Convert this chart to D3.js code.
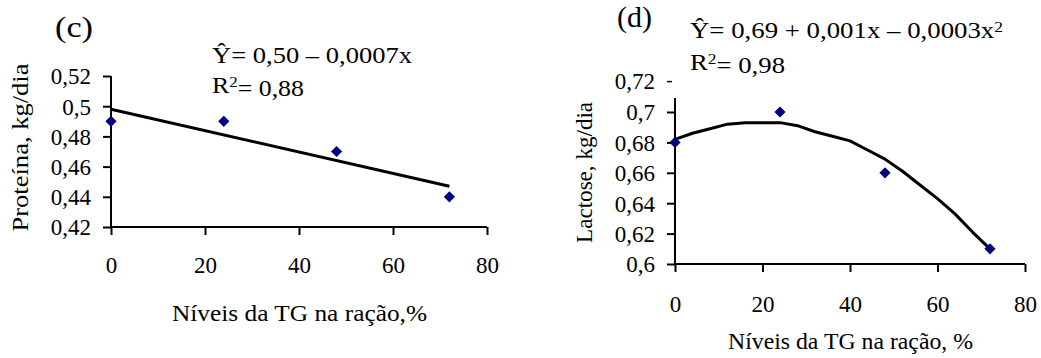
<!DOCTYPE html>
<html>
<head>
<meta charset="utf-8">
<script src="https://cdn.jsdelivr.net/npm/d3@7/dist/d3.min.js"></script>
<style>
  body { margin: 0; background: #fff; }
  svg text { font-family: "Liberation Serif", "Times New Roman", serif; fill: #000; }
</style>
</head>
<body>
<div id="chart"></div>
<script>
// níveis da TG (%)
const niveis = [0, 24, 48, 72];

// (c) proteína, kg/dia
const proteina = [0.49, 0.49, 0.47, 0.44];
const proteinaFitX = [0, 72];
const proteinaFitY = [0.498, 0.447];
const proteinaTicks = [0.42, 0.44, 0.46, 0.48, 0.5, 0.52];

// (d) lactose, kg/dia
const lactose = [0.68, 0.70, 0.66, 0.61];
const lactoseFitX = [0, 4, 8, 12, 16, 20, 24, 28, 32, 36, 40, 44, 48, 52, 56, 60, 64, 68, 72];
const lactoseFitY = [0.682, 0.686, 0.689, 0.692, 0.693, 0.693, 0.693, 0.691, 0.687, 0.684,
                     0.681, 0.675, 0.669, 0.661, 0.652, 0.643, 0.633, 0.621, 0.610];
const lactoseTicks = [0.6, 0.62, 0.64, 0.66, 0.68, 0.7];

const xTicks = [0, 20, 40, 60, 80];
const fmt = d => String(+d.toFixed(2)).replace(".", ",");

const svg = d3.select("#chart").append("svg")
  .attr("width", 1041).attr("height", 358);

const FS = 23;
const navy = "#000080";
const FONT = "Liberation Serif";

// helper for free text, optional fixed length
function label(g, txt, x, y, opt = {}) {
  const t = g.append("text")
    .attr("transform", `translate(${x},${y})` + (opt.rotate ? ` rotate(${opt.rotate})` : ""))
    .attr("text-anchor", opt.anchor || "start")
    .style("font-family", FONT)
    .style("font-size", (opt.size || FS) + "px");
  if (Array.isArray(txt)) {
    txt.forEach(p => {
      const s = t.append("tspan").text(p.t);
      if (p.sup) s.attr("dy", "-0.42em").style("font-size", Math.round((opt.size || FS) * 0.65) + "px");
      if (p.back) s.attr("dy", "0.42em");
    });
  } else t.text(txt);
  if (opt.len) t.attr("textLength", opt.len).attr("lengthAdjust", "spacingAndGlyphs");
  return t;
}

function panel(o) {
  const x = d3.scaleLinear().domain([0, 80]).range([o.left, o.right]);
  const y = d3.scaleLinear().domain(o.ydom).range([o.bottom, o.top]);
  const g = svg.append("g");

  // y axis
  const ya = g.append("g").attr("transform", `translate(${o.left},0)`)
    .call(d3.axisLeft(y).tickValues(o.yticks).tickFormat(fmt).tickSize(8).tickPadding(12));
  ya.select(".domain").remove();
  ya.append("line").attr("x1", 0).attr("x2", 0)
    .attr("y1", y(o.ydom[0]) + 1).attr("y2", y(o.axisTop))
    .attr("stroke", "#000").attr("stroke-width", 2);
  ya.selectAll(".tick line").attr("stroke", "#000").attr("stroke-width", 2);
  ya.selectAll(".tick text").attr("fill", "#000")
    .style("font-size", FS + "px").style("font-family", FONT).attr("dy", "0.34em");

  // x axis
  const xa = g.append("g").attr("transform", `translate(0,${o.bottom})`)
    .call(d3.axisBottom(x).tickValues(xTicks).tickSize(8).tickPadding(o.xpad));
  xa.select(".domain").attr("stroke", "#000").attr("stroke-width", 2)
    .attr("d", `M${o.left - 1},0H${o.right}`);
  xa.selectAll(".tick line").attr("stroke", "#000").attr("stroke-width", 2);
  xa.selectAll(".tick text").attr("fill", "#000")
    .style("font-size", FS + "px").style("font-family", FONT);

  // fitted line
  const line = d3.line().x(d => x(d[0])).y(d => y(d[1]));
  g.append("path")
    .datum(d3.zip(o.fitX, o.fitY))
    .attr("d", line)
    .attr("fill", "none").attr("stroke", "#000").attr("stroke-width", 3)
    .attr("stroke-linejoin", "round");

  // observed points
  g.selectAll(".pt").data(d3.zip(niveis, o.vals)).enter()
    .append("path")
    .attr("d", d3.symbol(d3.symbolDiamond2, 80)())
    .attr("transform", d => `translate(${x(d[0])},${y(d[1])})`)
    .attr("fill", navy);

  // titles, letter, equation
  label(g, o.xlabel, o.xtitle[0], o.xtitle[1], { len: o.xtitle[2] });
  label(g, o.ylabel, o.ytitle[0], o.ytitle[1], { rotate: -90, anchor: "middle", len: o.ytitle[2] });
  label(g, o.letterText, o.letter[0], o.letter[1], { size: 30, len: o.letter[2] });
  label(g, o.eqParts, o.eq[0], o.eq[1], { len: o.eq[2] });
  label(g, [{ t: "R" }, { t: "2", sup: true }, { t: "= " + o.r2, back: true }], o.r2pos[0], o.r2pos[1], { len: o.r2pos[2] });
  return { x, y, g };
}

panel({
  left: 111, right: 487, top: 76, bottom: 227, xpad: 22,
  ydom: [0.42, 0.52], axisTop: 0.52, yticks: proteinaTicks,
  vals: proteina, fitX: proteinaFitX, fitY: proteinaFitY,
  xlabel: "Níveis da TG na ração,%", xtitle: [172, 321, 255],
  ylabel: "Proteína, kg/dia", ytitle: [28, 147.5, 168],
  letterText: "(c)", letter: [55, 37, 38],
  eqParts: [{ t: "Ŷ= 0,50 – 0,0007x" }], eq: [212, 63, 200],
  r2pos: [212, 93, 92], r2: "0,88"
});

const pd = panel({
  left: 675, right: 1025, top: 112, bottom: 264, xpad: 24,
  ydom: [0.6, 0.7], axisTop: 0.7092, yticks: lactoseTicks,
  vals: lactose, fitX: lactoseFitX, fitY: lactoseFitY,
  xlabel: "Níveis da TG na ração, %", xtitle: [728, 349, 245],
  ylabel: "Lactose, kg/dia", ytitle: [592, 172.4, 141],
  letterText: "(d)", letter: [617, 27, 35],
  eqParts: [{ t: "Ŷ= 0,69 + 0,001x – 0,0003x" }, { t: "2", sup: true }], eq: [690, 38, 313],
  r2pos: [690, 70, 95], r2: "0,98"
});

// 0,72 label floating above the axis, with a short dash instead of a tick
const y72 = pd.y(0.72);
pd.g.append("text").attr("x", 655).attr("y", y72).attr("dy", "0.34em")
  .attr("text-anchor", "end").style("font-family", FONT).style("font-size", FS + "px").text(fmt(0.72));
pd.g.append("line").attr("x1", 667).attr("x2", 672).attr("y1", y72).attr("y2", y72)
  .attr("stroke", "#000").attr("stroke-width", 1.5);
</script>
</body>
</html>
